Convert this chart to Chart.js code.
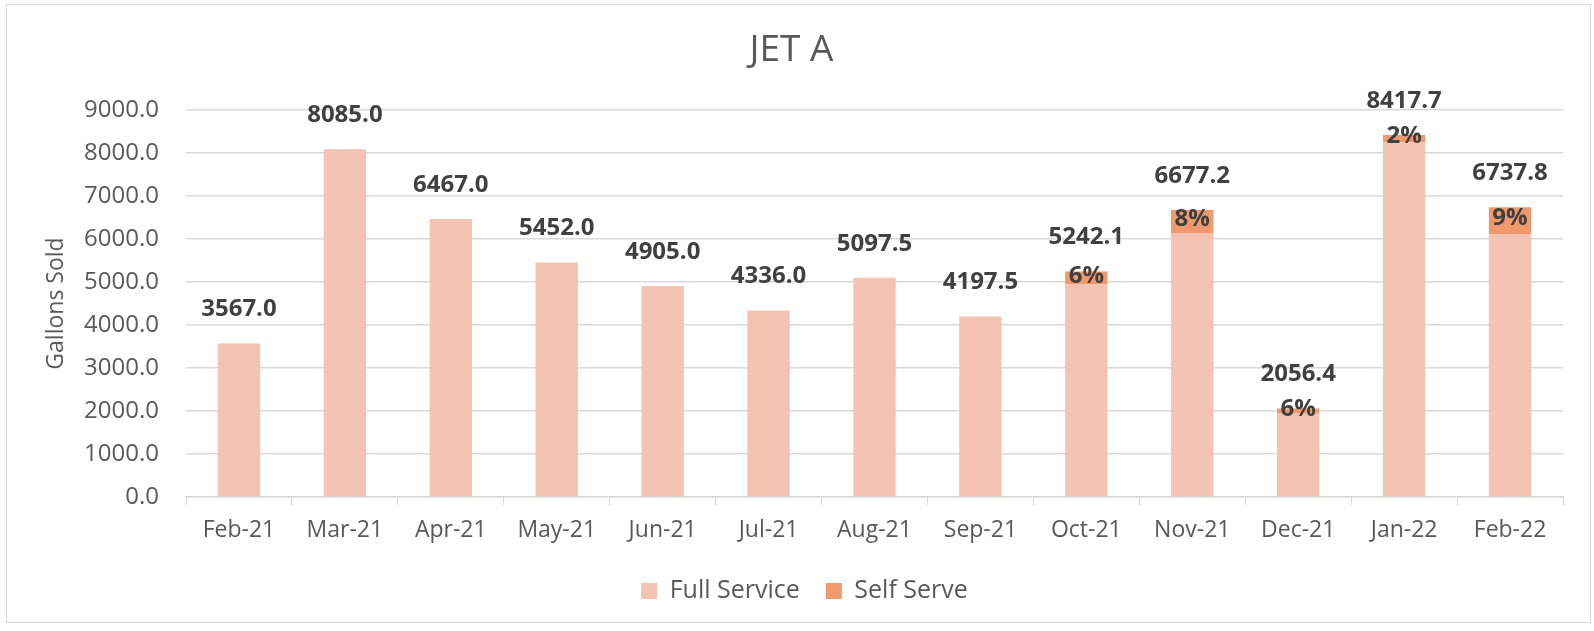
<!DOCTYPE html>
<html>
<head>
<meta charset="utf-8">
<title>JET A</title>
<script src="https://cdn.jsdelivr.net/npm/chart.js"></script>
<style>
  body { margin: 0; background: #fff; }
  canvas { display: block; }
</style>
</head>
<body>
<canvas id="jetA" width="1594" height="631"></canvas>
<script>
// datos
const months = ['Feb-21', 'Mar-21', 'Apr-21', 'May-21', 'Jun-21', 'Jul-21', 'Aug-21',
                'Sep-21', 'Oct-21', 'Nov-21', 'Dec-21', 'Jan-22', 'Feb-22'];
const fullService = [3567.0, 8085.0, 6467.0, 5452.0, 4905.0, 4336.0, 5097.5,
                     4197.5, 4942.1, 6142.2, 1933.4, 8249.7, 6117.8];
const selfServe = [0, 0, 0, 0, 0, 0, 0, 0, 300, 535, 123, 168, 620];
const yTicks = [0, 1000, 2000, 3000, 4000, 5000, 6000, 7000, 8000, 9000];

const fontFam = '"Open Sans", "Liberation Sans", sans-serif';
const gridColor = '#d9d9d9';

// borde del grafico
const frame = {
    id: 'frame',
    afterLayout(chart) {
        // legenda un poco a la derecha, como en el original
        chart.legend.left += 13;
        chart.legend.right += 13;
    },
    beforeDraw(chart) {
        const c = chart.ctx;
        c.save();
        c.fillStyle = '#fff';
        c.fillRect(0, 0, chart.width, chart.height);
        c.strokeStyle = gridColor;
        c.lineWidth = 1;
        c.strokeRect(6.5, 4.5, 1584, 618);
        c.restore();
    }
};

// etiquetas: total arriba, % dentro del self serve
const labels = {
    id: 'labels',
    afterDatasetsDraw(chart) {
        const c = chart.ctx;
        const y = chart.scales.y;
        const selfMeta = chart.getDatasetMeta(1);
        c.save();
        c.fillStyle = '#404040';
        c.font = 'bold 24px ' + fontFam;
        c.textAlign = 'center';
        c.textBaseline = 'middle';
        months.forEach((m, i) => {
            const total = fullService[i] + selfServe[i];
            const bar = selfMeta.data[i];
            c.fillText(total.toFixed(1), bar.x, y.getPixelForValue(total) - 34);
            if (selfServe[i] > 0) {
                const pct = Math.round(selfServe[i] / total * 100) + '%';
                const top = y.getPixelForValue(total);
                const bottom = y.getPixelForValue(fullService[i]);
                c.fillText(pct, bar.x, (top + bottom) / 2 - 2);
            }
        });
        c.restore();
    }
};

Chart.defaults.font.family = fontFam;
Chart.defaults.color = '#595959';

new Chart(document.getElementById('jetA'), {
    type: 'bar',
    data: {
        labels: months,
        datasets: [{
            label: 'Full Service',
            data: fullService,
            backgroundColor: '#f4c3b1',
            categoryPercentage: 1,
            barPercentage: 0.4
        }, {
            label: 'Self Serve',
            data: selfServe,
            backgroundColor: '#f0996f',
            categoryPercentage: 1,
            barPercentage: 0.4
        }]
    },
    options: {
        responsive: false,
        animation: false,
        layout: { padding: { left: 20, right: 31, top: 20, bottom: 17.5 } },
        plugins: {
            title: {
                display: true,
                text: 'JET A',
                color: '#595959',
                font: { size: 37, weight: '400' },
                padding: { top: 7.8, bottom: 37.8 }
            },
            legend: {
                position: 'bottom',
                labels: {
                    boxWidth: 16,
                    boxHeight: 16,
                    padding: 26,
                    font: { size: 25 },
                    color: '#595959'
                }
            },
            tooltip: { enabled: false }
        },
        scales: {
            x: {
                stacked: true,
                grid: {
                    drawOnChartArea: false,
                    drawTicks: true,
                    tickLength: 8,
                    color: gridColor,
                    offset: true
                },
                border: { color: gridColor, width: 1.5 },
                ticks: { font: { size: 23 }, padding: 12, color: '#595959' },
                afterFit(scale) { scale.height = 55.5; }
            },
            y: {
                stacked: true,
                min: 0,
                max: 9000,
                afterBuildTicks(scale) { scale.ticks = yTicks.map(v => ({ value: v })); },
                grid: { color: gridColor, lineWidth: 1.5, drawTicks: false },
                border: { display: false },
                ticks: {
                    font: { size: 24 },
                    padding: 27,
                    color: '#595959',
                    callback: v => v.toFixed(1)
                },
                title: {
                    display: true,
                    text: 'Gallons Sold',
                    font: { size: 23 },
                    color: '#595959',
                    padding: { top: 23, bottom: 0 }
                },
                afterFit(scale) { scale.width = 166; }
            }
        }
    },
    plugins: [frame, labels]
});
</script>
</body>
</html>
